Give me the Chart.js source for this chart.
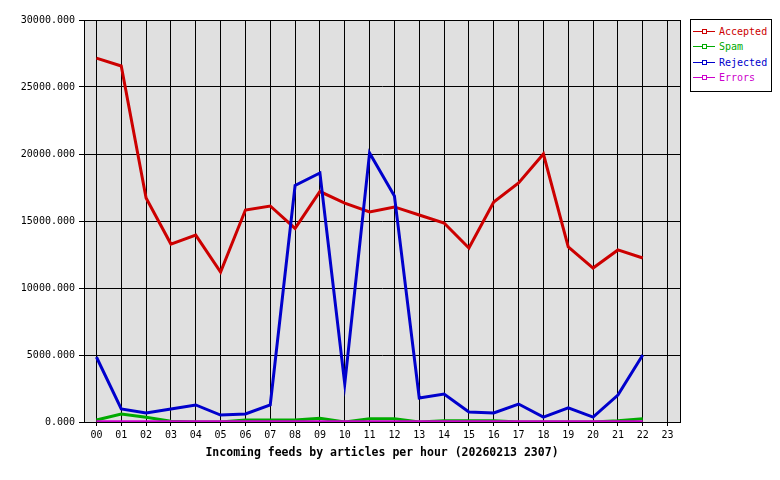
<!DOCTYPE html>
<html>
<head>
<meta charset="utf-8">
<script src="https://cdn.jsdelivr.net/npm/chart.js@4/dist/chart.umd.min.js"></script>
<style>
  body { margin: 0; background: #fff; }
  #wrap { position: relative; width: 780px; height: 480px; }
  #legend {
    position: absolute; left: 690px; top: 19px; width: 80px; height: 71px;
    border: 1px solid #000; background: #fff;
    font-family: "DejaVu Sans Mono", monospace; font-size: 10px;
  }
  .item { position: absolute; left: 2px; height: 12px; line-height: 12px; white-space: nowrap; }
  .swatch { position: absolute; left: 0; top: 5px; width: 22px; height: 1px; }
  .mark { position: absolute; left: 9px; top: -2px; width: 3px; height: 3px; border: 1px solid; background: #fff; }
  .label { position: absolute; left: 26px; top: 0; }
</style>
</head>
<body>
<div id="wrap">
  <canvas id="feedChart" width="780" height="480"></canvas>
  <div id="legend"></div>
</div>
<script>
const hours = ['00','01','02','03','04','05','06','07','08','09','10','11',
               '12','13','14','15','16','17','18','19','20','21','22','23'];

const accepted = [27160, 26570, 16720, 13280, 13950, 11190, 15820, 16120, 14450, 17200, 16340, 15670,
                  16050, 15450, 14850, 12990, 16420, 17840, 20000, 13060, 11490, 12840, 12240, null];
const spam     = [150, 600, 350, 60, 0, 0, 150, 150, 150, 270, 0, 250,
                  250, 0, 100, 100, 100, 0, 0, 0, 0, 100, 250, null];
const rejected = [4850, 970, 670, 970, 1270, 520, 600, 1270, 17650, 18580, 2840, 20080,
                  16870, 1790, 2090, 750, 670, 1340, 370, 1050, 370, 2010, 5000, null];
const errors   = [10, 10, 10, 10, 10, 10, 10, 10, 10, 10, 10, 10,
                  10, 10, 10, 10, 10, 10, 10, 10, 10, 10, 10, null];

const seriesNames  = ['Accepted', 'Spam', 'Rejected', 'Errors'];
const seriesColors = ['#cc0000', '#00aa00', '#0000cc', '#cc00cc'];
const seriesData   = [accepted, spam, rejected, errors];
const drawOrder    = [2, 3, 0, 1];

const MONO = '"DejaVu Sans Mono", monospace';

const plotBox = {
    id: 'plotBox',
    beforeDraw(chart) {
        const a = chart.chartArea;
        const c = chart.ctx;
        c.save();
        c.fillStyle = '#e0e0e0';
        c.fillRect(a.left, a.top, a.right - a.left, a.bottom - a.top);
        c.restore();
    },
    beforeDatasetsDraw(chart) {
        const a = chart.chartArea;
        const c = chart.ctx;
        c.save();
        c.strokeStyle = '#000';
        c.lineWidth = 1;
        c.strokeRect(Math.round(a.left) + 0.5, Math.round(a.top) + 0.5,
                     Math.round(a.right - a.left), Math.round(a.bottom - a.top));
        c.restore();
    }
};

function buildLegend() {
    const box = document.getElementById('legend');
    seriesNames.forEach((name, i) => {
        const item = document.createElement('div');
        item.className = 'item';
        item.style.top = (6 + i * 15.3) + 'px';
        item.style.color = seriesColors[i];
        item.innerHTML = '<span class="swatch" style="background:' + seriesColors[i] + '">' +
            '<span class="mark" style="border-color:' + seriesColors[i] + '"></span></span>' +
            '<span class="label">' + name + '</span>';
        box.appendChild(item);
    });
}

function initializeChart() {
    const ctx = document.getElementById('feedChart').getContext('2d');

    const data = {
        labels: hours,
        datasets: seriesNames.map((name, i) => ({
            label: name,
            data: seriesData[i],
            borderColor: seriesColors[i],
            backgroundColor: seriesColors[i],
            borderWidth: 3,
            pointRadius: 0,
            tension: 0,
            order: drawOrder[i]
        }))
    };

    const config = {
        type: 'line',
        data: data,
        options: {
            responsive: false,
            animation: false,
            layout: { padding: { top: 20, right: 100, left: 0, bottom: 0 } },
            plugins: {
                legend: { display: false },
                tooltip: { enabled: false }
            },
            scales: {
                x: {
                    offset: true,
                    grid: { color: '#000', lineWidth: 1, tickLength: 4, offset: false },
                    border: { color: '#000', width: 1 },
                    ticks: {
                        color: '#000', padding: 3, maxRotation: 0, autoSkip: false,
                        font: { family: MONO, size: 10 }
                    },
                    title: {
                        display: true,
                        text: 'Incoming feeds by articles per hour (20260213 2307)',
                        color: '#000',
                        font: { family: MONO, size: 11.5, weight: 'bold' },
                        padding: { top: 0, bottom: 20 }
                    },
                    afterFit: function (scale) { scale.height = 58; }
                },
                y: {
                    min: 0,
                    max: 30000,
                    grid: { color: '#000', lineWidth: 1, tickLength: 5 },
                    border: { color: '#000', width: 1 },
                    ticks: {
                        stepSize: 5000,
                        color: '#000',
                        padding: 4,
                        font: { family: MONO, size: 10 },
                        callback: function (value) {
                            return value.toFixed(3);
                        }
                    },
                    afterFit: function (scale) { scale.width = 84; }
                }
            }
        },
        plugins: [plotBox]
    };

    new Chart(ctx, config);
}

document.addEventListener('DOMContentLoaded', function () {
    buildLegend();
    initializeChart();
});
</script>
</body>
</html>
